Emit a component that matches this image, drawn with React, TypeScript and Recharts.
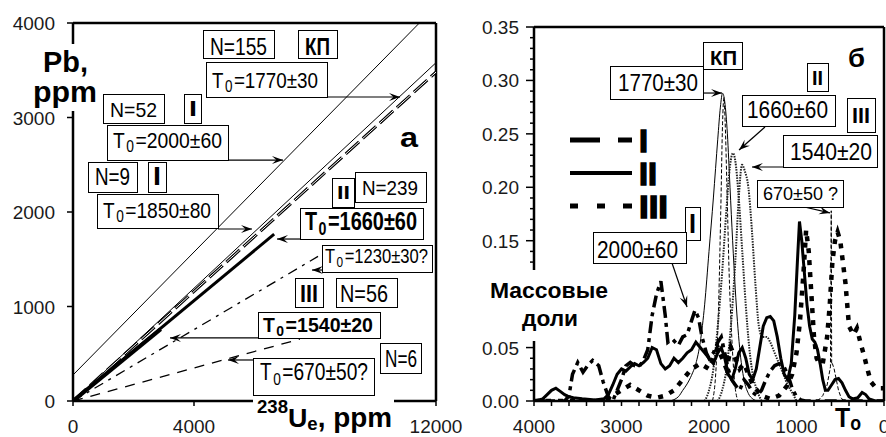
import React from 'react';
import { LineChart, Line, XAxis, YAxis, ReferenceLine } from 'recharts';

const FONT = '"Liberation Sans", Arial, Helvetica, sans-serif';

// ---------------- Panel а : Pb vs 238Ue isochrons ----------------
const leftXTicks = [0, 4000, 8000, 12000];
const leftXLabels = [0, 4000, 12000]; // 8000 is hidden behind the axis title
const leftYTicks = [0, 1000, 2000, 3000, 4000];

const isoKpU = [0, 12000];
const isoKpPb = [0, 3580];
const isoI52U = [0, 11450];
const isoI52Pb = [275, 4000];
const isoI9U = [0, 12000];
const isoI9Pb = [0, 3480];
const isoIIU = [0, 6650];
const isoIIPb = [0, 1765];
const isoCoreU = [0, 2900];
const isoCorePb = [0, 760];
const isoIIIU = [0, 8100];
const isoIIIPb = [0, 1530];
const iso670U = [0, 7500];
const iso670Pb = [0, 655];

// ---------------- Panel б : mass fractions vs T0 ----------------
const rightXTicks = [0, 200, 400, 600, 800, 1000, 1200, 1400, 1600, 1800, 2000, 2200, 2400, 2600, 2800, 3000, 3200, 3400, 3600, 3800, 4000];
const rightXLabels = [0, 1000, 2000, 3000, 4000];
const rightYTicks = [0, 0.01, 0.02, 0.03, 0.04, 0.05, 0.06, 0.07, 0.08, 0.09, 0.1, 0.11, 0.12, 0.13, 0.14, 0.15, 0.16, 0.17, 0.18, 0.19, 0.2, 0.21, 0.22, 0.23, 0.24, 0.25, 0.26, 0.27, 0.28, 0.29, 0.3, 0.31, 0.32, 0.33, 0.34, 0.35];
const rightYMajor = [0, 0.05, 0.1, 0.15, 0.2, 0.25, 0.3, 0.35];
const rightYLabels = [0, 0.05, 0.15, 0.2, 0.25, 0.3, 0.35]; // 0.10 is hidden behind the axis title

const iT = [4000, 3650, 3600, 3560, 3500, 3440, 3380, 3330, 3260, 3210, 3150, 3100, 3050, 3000, 2950, 2900, 2850, 2800, 2750, 2700, 2650, 2600, 2550, 2500, 2470, 2420, 2350, 2300, 2250, 2200, 2160, 2120, 2080, 2030, 2000, 1950, 1900, 1860, 1820, 1780, 1740, 1700, 1650, 1600, 1550, 1500, 1450, 1400, 1350, 1300, 1250, 1200, 1150, 1100, 1050, 1000, 950, 900, 0];
const iV = [0, 0, 0.005, 0.025, 0.036, 0.027, 0.034, 0.038, 0.033, 0.018, 0.004, 0, 0.01, 0.02, 0.033, 0.036, 0.033, 0.032, 0.038, 0.048, 0.08, 0.1, 0.112, 0.08, 0.055, 0.058, 0.052, 0.06, 0.062, 0.075, 0.085, 0.078, 0.06, 0.045, 0.04, 0.045, 0.055, 0.06, 0.045, 0.03, 0.02, 0.015, 0.01, 0.02, 0.015, 0.008, 0.005, 0.01, 0.02, 0.028, 0.033, 0.035, 0.033, 0.025, 0.012, 0.004, 0.001, 0, 0];

const iiT = [4000, 3900, 3850, 3800, 3750, 3700, 3650, 3600, 3550, 3450, 3300, 3200, 3150, 3100, 3050, 3000, 2950, 2900, 2850, 2800, 2750, 2700, 2650, 2600, 2550, 2500, 2450, 2400, 2350, 2300, 2250, 2200, 2150, 2100, 2050, 2000, 1950, 1900, 1860, 1820, 1780, 1740, 1700, 1660, 1620, 1580, 1540, 1500, 1460, 1420, 1380, 1340, 1300, 1260, 1220, 1180, 1140, 1100, 1060, 1020, 990, 966, 940, 910, 880, 850, 820, 790, 760, 730, 700, 670, 640, 600, 560, 520, 480, 440, 400, 360, 300, 250, 210, 170, 100, 0];
const iiV = [0, 0.002, 0.006, 0.01, 0.012, 0.009, 0.006, 0.004, 0.003, 0.002, 0.001, 0.002, 0.006, 0.015, 0.025, 0.03, 0.028, 0.032, 0.035, 0.033, 0.036, 0.04, 0.05, 0.048, 0.035, 0.03, 0.033, 0.04, 0.036, 0.04, 0.045, 0.048, 0.055, 0.05, 0.045, 0.04, 0.035, 0.045, 0.05, 0.04, 0.025, 0.02, 0.03, 0.045, 0.05, 0.04, 0.025, 0.02, 0.03, 0.05, 0.07, 0.078, 0.079, 0.075, 0.06, 0.04, 0.025, 0.02, 0.035, 0.08, 0.13, 0.168, 0.15, 0.12, 0.09, 0.07, 0.058, 0.055, 0.048, 0.035, 0.02, 0.01, 0.01, 0.015, 0.02, 0.021, 0.017, 0.01, 0.004, 0.002, 0.003, 0.008, 0.006, 0.002, 0, 0];

const iiiT = [4000, 3200, 3100, 3000, 2900, 2800, 2700, 2600, 2500, 2400, 2300, 2200, 2100, 2000, 1950, 1900, 1850, 1800, 1750, 1700, 1650, 1600, 1550, 1500, 1450, 1400, 1300, 1200, 1100, 1050, 1000, 960, 920, 890, 860, 830, 800, 770, 740, 700, 650, 620, 590, 560, 530, 500, 470, 440, 400, 350, 310, 270, 220, 190, 150, 100, 50, 0];
const iiiV = [0, 0, 0.005, 0.01, 0.015, 0.01, 0.005, 0.003, 0.005, 0.01, 0.02, 0.03, 0.035, 0.03, 0.04, 0.05, 0.04, 0.03, 0.05, 0.04, 0.03, 0.035, 0.025, 0.015, 0.01, 0.005, 0.002, 0.005, 0.015, 0.025, 0.045, 0.075, 0.12, 0.16, 0.14, 0.1, 0.06, 0.04, 0.035, 0.035, 0.06, 0.09, 0.13, 0.15, 0.158, 0.15, 0.13, 0.11, 0.07, 0.062, 0.068, 0.055, 0.04, 0.03, 0.018, 0.013, 0.012, 0.012];

const kpT = [2450, 2350, 2300, 2250, 2200, 2150, 2100, 2050, 2000, 1950, 1900, 1870, 1845, 1820, 1790, 1760, 1730, 1700, 1650, 1600, 1550, 1500, 1450];
const kpV = [0, 0.004, 0.01, 0.016, 0.024, 0.035, 0.055, 0.09, 0.14, 0.19, 0.245, 0.275, 0.288, 0.28, 0.25, 0.2, 0.15, 0.105, 0.05, 0.02, 0.007, 0.002, 0];

const kpdT = [1960, 1920, 1890, 1865, 1845, 1830, 1815, 1795, 1770, 1740, 1710, 1670];
const kpdV = [0, 0.03, 0.09, 0.18, 0.26, 0.284, 0.26, 0.2, 0.12, 0.06, 0.02, 0];

const iisT = [2050, 2000, 1950, 1900, 1850, 1800, 1760, 1726, 1700, 1660, 1620, 1580, 1540, 1500, 1450, 1400];
const iisV = [0, 0.01, 0.03, 0.07, 0.12, 0.18, 0.22, 0.232, 0.225, 0.19, 0.14, 0.09, 0.05, 0.025, 0.01, 0];

const iiisT = [1900, 1850, 1800, 1750, 1700, 1660, 1623, 1590, 1550, 1510, 1470, 1430, 1390, 1340, 1300, 1250, 1200, 1150, 1100, 1050, 1000];
const iiisV = [0, 0.01, 0.03, 0.07, 0.13, 0.19, 0.221, 0.215, 0.2, 0.16, 0.11, 0.07, 0.06, 0.06, 0.055, 0.045, 0.035, 0.025, 0.015, 0.008, 0];

const s670T = [760, 700, 650, 612, 603, 598, 590, 570, 545, 520, 490, 460];
const s670V = [0, 0.005, 0.015, 0.032, 0.178, 0.034, 0.035, 0.03, 0.02, 0.01, 0.003, 0];

// annotation arrows (data coordinates: [from, to])
const leftArrows: number[][][] = [
  [[8397, 3217], [10810, 3217]],
  [[5124, 2550], [6942, 2550]],
  [[4794, 1820], [5918, 1820]],
  [[7505, 1714], [6744, 1714]],
  [[8700, 1386], [7901, 1386]],
  [[6116, 667], [3207, 667]],
  [[5951, 434], [5124, 434]],
];
const rightArrows: number[][][] = [
  [[2057, 0.2882], [1851, 0.2882]],
  [[1360, 0.2564], [1657, 0.2349]],
  [[1154, 0.219], [1509, 0.219]],
  [[960, 0.1825], [617, 0.176]],
  [[2423, 0.1291], [2251, 0.088]],
];

const zip = (xs: number[], ys: number[], kx: string, ky: string) =>
  xs.map((x, i) => ({ [kx]: x, [ky]: ys[i] }));

const near = (list: number[], v: number) => list.some((w) => Math.abs(w - v) < 1e-6);

const arrowShape = (p: any) => {
  const { x1, y1, x2, y2 } = p;
  const a = Math.atan2(y2 - y1, x2 - x1);
  const L = 11, W = 4;
  const c = Math.cos(a), s = Math.sin(a);
  const bx = x2 - L * c, by = y2 - L * s;
  const nx = x2 - 0.6 * L * c, ny = y2 - 0.6 * L * s;
  const px = -s * W, py = c * W;
  return (
    <g>
      <line x1={x1} y1={y1} x2={x2} y2={y2} stroke="#000" strokeWidth={1.2} />
      <polygon points={`${x2},${y2} ${bx + px},${by + py} ${nx},${ny} ${bx - px},${by - py}`} fill="#000" />
    </g>
  );
};

const LeftXTick = (p: any) =>
  near(leftXLabels, p.payload.value) ? (
    <text x={p.x} y={p.y + 14} textAnchor="middle" fontSize={19} fontFamily={FONT} fill="#1a1a1a">{p.payload.value}</text>
  ) : (
    <g />
  );
const LeftYTick = (p: any) => (
  <text x={p.x} y={p.y + 7} textAnchor="end" fontSize={19} fontFamily={FONT} fill="#1a1a1a">{p.payload.value}</text>
);
const RightYTick = (p: any) => {
  const v = p.payload.value as number;
  const major = near(rightYMajor, v);
  const ax = p.x + 15;
  return (
    <g>
      <line x1={ax - (major ? 8 : 4)} x2={ax} y1={p.y} y2={p.y} stroke="#000" strokeWidth={1.5} />
      {near(rightYLabels, v) && (
        <text x={p.x} y={p.y + 7} textAnchor="end" fontSize={19} fontFamily={FONT} fill="#1a1a1a">{v.toFixed(2)}</text>
      )}
    </g>
  );
};
const RightXTick = (p: any) => {
  const v = p.payload.value as number;
  const ay = p.y - 17;
  return (
    <g>
      <line x1={p.x} x2={p.x} y1={ay} y2={ay + 5} stroke="#000" strokeWidth={1.5} />
      {near(rightXLabels, v) && (
        <text x={p.x} y={p.y + 15} textAnchor="middle" fontSize={19} fontFamily={FONT} fill="#1a1a1a">{v}</text>
      )}
    </g>
  );
};

type Part = { t: string; sub?: boolean };
const T0 = (rest: string): Part[] => [{ t: 'T' }, { t: '0', sub: true }, { t: rest }];
const P = (t: string): Part[] => [{ t }];

type Note = { box?: number[]; x: number; y: number; w: number; fs: number; bold?: boolean; parts: Part[] };

const notes: Note[] = [
  // panel а
  { box: [203, 30, 274, 58], x: 210, y: 55, w: 57, fs: 24, parts: P('N=155') },
  { box: [298, 30, 337, 58], x: 305, y: 55, w: 25, fs: 23, bold: true, parts: P('КП') },
  { box: [206, 62, 327, 97], x: 212, y: 88, w: 106, fs: 22, parts: T0('=1770±30') },
  { box: [103, 94, 164, 123], x: 110, y: 117, w: 47, fs: 21, parts: P('N=52') },
  { box: [184, 94, 201, 123], x: 189, y: 116, w: 8, fs: 22, bold: true, parts: P('I') },
  { box: [107, 125, 228, 160], x: 113, y: 148, w: 109, fs: 22, parts: T0('=2000±60') },
  { box: [88, 162, 137, 192], x: 95, y: 185, w: 35, fs: 23, parts: P('N=9') },
  { box: [148, 162, 166, 192], x: 153, y: 185, w: 8, fs: 25, bold: true, parts: P('I') },
  { box: [97, 194, 218, 228], x: 103, y: 218, w: 108, fs: 22, parts: T0('=1850±80') },
  { x: 400, y: 147, w: 18, fs: 28, bold: true, parts: P('а') },
  { box: [332, 178, 354, 207], x: 337, y: 199, w: 13, fs: 18, bold: true, parts: P('II') },
  { box: [355, 172, 426, 202], x: 362, y: 195, w: 56, fs: 21, parts: P('N=239') },
  { box: [300, 208, 423, 239], x: 305, y: 230, w: 112, fs: 25, bold: true, parts: T0('=1660±60') },
  { box: [322, 245, 432, 272], x: 325, y: 263, w: 103, fs: 20, parts: T0('=1230±30?') },
  { box: [295, 278, 323, 307], x: 300, y: 302, w: 18, fs: 24, bold: true, parts: P('III') },
  { box: [336, 278, 397, 307], x: 340, y: 302, w: 48, fs: 23, parts: P('N=56') },
  { box: [258, 312, 380, 338], x: 263, y: 332, w: 110, fs: 21, bold: true, parts: T0('=1540±20') },
  { box: [380, 343, 421, 373], x: 385, y: 367, w: 32, fs: 23, parts: P('N=6') },
  { box: [253, 358, 374, 395], x: 260, y: 380, w: 108, fs: 23, parts: T0('=670±50?') },
  // panel б
  { box: [703, 42, 742, 69], x: 710, y: 65, w: 27, fs: 21, bold: true, parts: P('КП') },
  { box: [610, 66, 703, 99], x: 618, y: 91, w: 80, fs: 23, parts: P('1770±30') },
  { x: 848, y: 67, w: 17, fs: 26, bold: true, parts: P('б') },
  { box: [807, 63, 828, 91], x: 812, y: 85, w: 11, fs: 21, bold: true, parts: P('II') },
  { box: [742, 95, 835, 126], x: 747, y: 118, w: 81, fs: 23, parts: P('1660±60') },
  { box: [847, 98, 875, 132], x: 852, y: 123, w: 18, fs: 22, bold: true, parts: P('III') },
  { box: [783, 135, 877, 167], x: 790, y: 160, w: 82, fs: 23, parts: P('1540±20') },
  { box: [757, 180, 843, 207], x: 763, y: 200, w: 75, fs: 18, parts: P('670±50 ?') },
  { box: [685, 207, 700, 240], x: 689, y: 233, w: 7, fs: 27, bold: true, parts: P('I') },
  { box: [593, 232, 686, 263], x: 597, y: 258, w: 81, fs: 23, parts: P('2000±60') },
];

// approximate advance widths (em) for splitting multi-part labels
const CW: Record<string, number> = { T: 0.611, '=': 0.584, '±': 0.584, '?': 0.556 };
const emWidth = (s: string) => [...s].reduce((a, c) => a + (CW[c] ?? 0.556), 0);

const Txt = ({ n }: { n: Note }) => {
  const common = { fontSize: n.fs, fontWeight: n.bold ? 700 : 400, fontFamily: FONT, fill: '#000', lengthAdjust: 'spacingAndGlyphs' as const };
  if (n.parts.length === 1) {
    return <text x={n.x} y={n.y} {...common} textLength={n.w}>{n.parts[0].t}</text>;
  }
  const gap = 1.5;
  const ems = n.parts.map((p) => emWidth(p.t) * (p.sub ? 0.72 : 1));
  const total = ems.reduce((a, b) => a + b, 0);
  const avail = n.w - gap * (n.parts.length - 1);
  let cx = n.x;
  return (
    <g>
      {n.parts.map((p, i) => {
        const w = (avail * ems[i]) / total;
        const el = (
          <text key={i} x={cx} y={p.sub ? n.y + n.fs * 0.2 : n.y} {...common} fontSize={p.sub ? n.fs * 0.72 : n.fs} textLength={w}>
            {p.t}
          </text>
        );
        cx += w + gap;
        return el;
      })}
    </g>
  );
};

const BoldTxt = ({ x, y, w, fs, t, sw = 0 }: { x: number; y: number; w: number; fs: number; t: string; sw?: number }) => (
  <text x={x} y={y} fontSize={fs} fontWeight={700} fontFamily={FONT} fill="#000" stroke={sw ? '#000' : 'none'} strokeWidth={sw}
    textLength={w} lengthAdjust="spacingAndGlyphs">{t}</text>
);

const thin = { dot: false, activeDot: false, isAnimationActive: false, stroke: '#000' } as const;

export default function App() {
  return (
    <div style={{ position: 'absolute', left: 0, top: 0, width: 886, height: 437, background: '#fff', overflow: 'hidden', fontFamily: FONT }}>
      <div style={{ position: 'absolute', left: 0, top: 0 }}>
        <LineChart width={470} height={437} margin={{ top: 23, right: 34, bottom: 0, left: 0 }}>
          <XAxis type="number" dataKey="u" domain={[0, 12000]} ticks={leftXTicks} interval={0} height={36}
            tickSize={5} tickMargin={13} tick={LeftXTick} allowDataOverflow
            tickLine={{ stroke: '#000', strokeWidth: 1.5 }} axisLine={{ stroke: '#000', strokeWidth: 2.5 }} />
          <YAxis type="number" domain={[0, 4000]} ticks={leftYTicks} interval={0} width={73}
            tickSize={6} tickMargin={12} tick={LeftYTick} allowDataOverflow
            tickLine={{ stroke: '#000', strokeWidth: 1.5 }} axisLine={{ stroke: '#000', strokeWidth: 2.5 }} />
          <ReferenceLine y={4000} stroke="#000" strokeWidth={2.5} ifOverflow="visible" />
          <ReferenceLine x={12000} stroke="#000" strokeWidth={2.5} ifOverflow="visible" />
          <Line {...thin} data={zip(isoI52U, isoI52Pb, 'u', 'pb')} dataKey="pb" strokeWidth={1} type="linear" />
          <Line {...thin} data={zip(isoKpU, isoKpPb, 'u', 'pb')} dataKey="pb" strokeWidth={1} type="linear" />
          <Line {...thin} data={zip(isoI9U, isoI9Pb, 'u', 'pb')} dataKey="pb" strokeWidth={3} strokeDasharray="18 5" type="linear" />
          <Line {...thin} data={zip(isoI9U, isoI9Pb, 'u', 'pb')} dataKey="pb" stroke="#fff" strokeWidth={1} strokeDasharray="18 5" type="linear" />
          <Line {...thin} data={zip(isoIIU, isoIIPb, 'u', 'pb')} dataKey="pb" strokeWidth={3} type="linear" />
          <Line {...thin} data={zip(isoCoreU, isoCorePb, 'u', 'pb')} dataKey="pb" strokeWidth={4} type="linear" />
          <Line {...thin} data={zip(isoIIIU, isoIIIPb, 'u', 'pb')} dataKey="pb" strokeWidth={1.3} strokeDasharray="10 6 3 6" type="linear" />
          <Line {...thin} data={zip(iso670U, iso670Pb, 'u', 'pb')} dataKey="pb" strokeWidth={1.3} strokeDasharray="10 8" type="linear" />
          {leftArrows.map((a, i) => (
            <ReferenceLine key={i} segment={[{ x: a[0][0], y: a[0][1] }, { x: a[1][0], y: a[1][1] }]} ifOverflow="visible" shape={arrowShape} />
          ))}
        </LineChart>
      </div>

      <div style={{ position: 'absolute', left: 440, top: 0 }}>
        <LineChart width={446} height={437} margin={{ top: 27, right: 2, bottom: 0, left: 0 }}>
          <XAxis type="number" dataKey="t" domain={[0, 4000]} reversed ticks={rightXTicks} interval={0} height={36}
            tickSize={5} tickMargin={12} tick={RightXTick} tickLine={false} allowDataOverflow
            axisLine={{ stroke: '#000', strokeWidth: 2.5 }} />
          <YAxis type="number" domain={[0, 0.35]} ticks={rightYTicks} interval={0} width={94}
            tickSize={8} tickMargin={7} tick={RightYTick} tickLine={false} allowDataOverflow
            axisLine={{ stroke: '#000', strokeWidth: 2.5 }} />
          <ReferenceLine y={0.35} stroke="#000" strokeWidth={2.5} ifOverflow="visible" />
          <ReferenceLine x={0} stroke="#000" strokeWidth={2.5} ifOverflow="visible" />
          <Line {...thin} data={zip(kpT, kpV, 't', 'v')} dataKey="v" strokeWidth={1} type="monotone" />
          <Line {...thin} data={zip(kpdT, kpdV, 't', 'v')} dataKey="v" strokeWidth={1} strokeDasharray="4 2" type="monotone" />
          <Line {...thin} data={zip(iisT, iisV, 't', 'v')} dataKey="v" stroke="#222" strokeWidth={2} strokeDasharray="1.5 1.2" type="monotone" />
          <Line {...thin} data={zip(iiisT, iiisV, 't', 'v')} dataKey="v" stroke="#222" strokeWidth={2} strokeDasharray="1.5 1.2" type="monotone" />
          <Line {...thin} data={zip(s670T, s670V, 't', 'v')} dataKey="v" strokeWidth={1} strokeDasharray="4 2" type="linear" />
          <Line {...thin} data={zip(iT, iV, 't', 'v')} dataKey="v" strokeWidth={3.5} strokeDasharray="12 5 4 5" type="linear" />
          <Line {...thin} data={zip(iiT, iiV, 't', 'v')} dataKey="v" strokeWidth={3} type="linear" />
          <Line {...thin} data={zip(iiiT, iiiV, 't', 'v')} dataKey="v" strokeWidth={4.5} strokeDasharray="5 7" type="linear" />
          {rightArrows.map((a, i) => (
            <ReferenceLine key={i} segment={[{ x: a[0][0], y: a[0][1] }, { x: a[1][0], y: a[1][1] }]} ifOverflow="visible" shape={arrowShape} />
          ))}
        </LineChart>
      </div>

      <svg width={886} height={437} style={{ position: 'absolute', left: 0, top: 0, pointerEvents: 'none' }}>
        {/* axis titles, panel а */}
        <rect x={31} y={44} width={68} height={67} fill="#fff" />
        <BoldTxt x={43} y={72} w={45} fs={30} t="Pb," />
        <BoldTxt x={33} y={102} w={64} fs={30} t="ppm" />
        <rect x={253} y={393} width={141} height={44} fill="#fff" />
        <text x={257} y={427} fontSize={27} fontWeight={700} fontFamily={FONT} fill="#000" textLength={135} lengthAdjust="spacingAndGlyphs">
          <tspan fontSize={18} dy={-14}>238</tspan>
          <tspan fontSize={26} dy={14}>U</tspan>
          <tspan fontSize={18} dy={3}>e</tspan>
          <tspan dy={-3}>, ppm</tspan>
        </text>

        {/* axis titles, panel б */}
        <rect x={476} y={270} width={137} height={71} fill="#fff" />
        <BoldTxt x={490} y={298} w={118} fs={22} t="Массовые" />
        <BoldTxt x={522} y={326} w={56} fs={22} t="доли" />
        <text x={835} y={427} fontSize={28} fontWeight={700} fontFamily={FONT} fill="#000" textLength={26} lengthAdjust="spacingAndGlyphs">
          <tspan>T</tspan>
          <tspan fontSize={20} dy={3}>o</tspan>
        </text>

        {/* legend, panel б */}
        <line x1={570} x2={600} y1={140} y2={140} stroke="#000" strokeWidth={5} />
        <line x1={618} x2={632} y1={140} y2={140} stroke="#000" strokeWidth={5} />
        <BoldTxt x={639} y={152} w={9} fs={31} t="I" sw={1.4} />
        <line x1={570} x2={632} y1={173} y2={173} stroke="#000" strokeWidth={4} />
        <BoldTxt x={639} y={185} w={18} fs={31} t="II" sw={1.4} />
        <line x1={570} x2={578} y1={206} y2={206} stroke="#000" strokeWidth={5} />
        <line x1={597} x2={605} y1={206} y2={206} stroke="#000" strokeWidth={5} />
        <line x1={623} x2={632} y1={206} y2={206} stroke="#000" strokeWidth={5} />
        <BoldTxt x={639} y={218} w={29} fs={31} t="III" sw={1.4} />

        {notes.map((n, i) => (
          <g key={i}>
            {n.box && (
              <rect x={n.box[0] + 0.5} y={n.box[1] + 0.5} width={n.box[2] - n.box[0]} height={n.box[3] - n.box[1]}
                fill="#fff" stroke="#000" strokeWidth={1} />
            )}
            <Txt n={n} />
          </g>
        ))}
      </svg>
    </div>
  );
}
